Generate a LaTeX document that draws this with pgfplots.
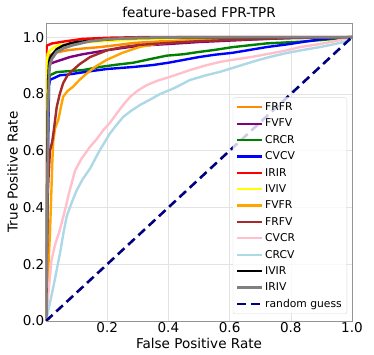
\documentclass[border=0pt]{standalone}
\usepackage{fontspec}
\setmainfont{DejaVu Sans}
\usepackage{pgfplots}
\pgfplotsset{compat=1.18}

\definecolor{cFRFR}{RGB}{255,140,0}
\definecolor{cFVFV}{RGB}{128,0,128}
\definecolor{cCRCR}{RGB}{0,128,0}
\definecolor{cCVCV}{RGB}{0,0,255}
\definecolor{cIRIR}{RGB}{255,0,0}
\definecolor{cIVIV}{RGB}{255,255,0}
\definecolor{cFVFR}{RGB}{255,165,0}
\definecolor{cFRFV}{RGB}{165,42,42}
\definecolor{cCVCR}{RGB}{255,192,203}
\definecolor{cCRCV}{RGB}{173,216,230}
\definecolor{cIVIR}{RGB}{0,0,0}
\definecolor{cIRIV}{RGB}{128,128,128}
\definecolor{cnavy}{RGB}{0,0,128}

\begin{document}
\begin{tikzpicture}
\begin{axis}[
  scale only axis,
  width=306bp, height=298bp,
  xmin=0, xmax=1, ymin=0, ymax=1.05,
  xtick={0.2,0.4,0.6,0.8,1.0},
  ytick={0,0.2,0.4,0.6,0.8,1.0},
  /pgf/number format/assume math mode=true,
  /pgf/number format/fixed, /pgf/number format/precision=1,
  /pgf/number format/fixed zerofill,
  ticklabel style={font=\fontsize{13.6}{15}\selectfont, inner sep=1.5bp},
  major tick length=0pt,
  grid=major,
  grid style={gray!22, line width=0.6pt},
  axis line style={gray!85, line width=0.8pt},
  title={feature-based FPR-TPR},
  title style={font=\fontsize{13.6}{15}\selectfont, yshift=-4bp},
  xlabel={False Positive Rate},
  ylabel={True Positive Rate},
  label style={font=\fontsize{13.6}{15}\selectfont},
  xlabel style={yshift=0bp},
  ylabel style={yshift=0bp},
  every axis plot/.append style={line width=2.4pt, line join=round},
  legend style={at={(1,0)}, anchor=south east, xshift=-5bp, yshift=7bp,
    font=\fontsize{10.8}{13}\selectfont, draw=gray!30, rounded corners=2bp,
    fill=white, fill opacity=0.8, text opacity=1, row sep=3bp,
    inner xsep=3bp, inner ysep=3bp},
  legend cell align=left,
  legend image code/.code={\draw[#1, line width=2.2pt] (0bp,0bp) -- (25bp,0bp);},
]
\addplot[cFRFR] coordinates {(0,0)(0.002,0.3)(0.004,0.6)(0.006,0.85)(0.008,0.92)(0.013,0.937)(0.03,0.945)(0.07,0.954)(0.12,0.96)(0.176,0.965)(0.23,0.972)(0.29,0.98)(0.37,0.985)(0.46,0.99)(0.6,0.995)(0.75,0.998)(1,1)};
\addlegendentry{FRFR}
\addplot[cFVFV] coordinates {(0,0)(0.003,0.5)(0.006,0.85)(0.01,0.905)(0.03,0.913)(0.05,0.92)(0.078,0.93)(0.12,0.94)(0.198,0.954)(0.25,0.962)(0.307,0.97)(0.4,0.976)(0.5,0.983)(0.6,0.988)(0.7,0.993)(0.8,0.997)(0.9,0.999)(1,1)};
\addlegendentry{FVFV}
\addplot[cCRCR] coordinates {(0,0)(0.004,0.5)(0.008,0.84)(0.013,0.866)(0.035,0.877)(0.07,0.88)(0.12,0.884)(0.176,0.895)(0.23,0.903)(0.285,0.91)(0.35,0.925)(0.395,0.935)(0.45,0.94)(0.5,0.948)(0.55,0.955)(0.61,0.965)(0.72,0.978)(0.83,0.984)(0.9,0.99)(0.95,0.995)(1,1)};
\addlegendentry{CRCR}
\addplot[cCVCV] coordinates {(0,0)(0.005,0.5)(0.01,0.83)(0.013,0.85)(0.024,0.855)(0.046,0.866)(0.07,0.868)(0.144,0.88)(0.2,0.888)(0.285,0.895)(0.35,0.902)(0.4,0.91)(0.5,0.93)(0.55,0.938)(0.61,0.945)(0.72,0.965)(0.79,0.975)(0.85,0.985)(0.9,0.993)(0.95,0.998)(1,1)};
\addlegendentry{CVCV}
\addplot[cIRIR] coordinates {(0,0)(0.001,0.9)(0.002,0.97)(0.02,0.978)(0.06,0.985)(0.12,0.994)(0.2,0.998)(0.3,1)(1,1)};
\addlegendentry{IRIR}
\addplot[cIVIV] coordinates {(0,0)(0.002,0.85)(0.005,0.94)(0.015,0.955)(0.035,0.97)(0.1,0.98)(0.176,0.985)(0.3,0.993)(0.5,0.998)(1,1)};
\addlegendentry{IVIV}
\addplot[cFVFR] coordinates {(0,0)(0.004,0.1)(0.008,0.2)(0.013,0.31)(0.018,0.47)(0.021,0.57)(0.024,0.637)(0.03,0.68)(0.04,0.708)(0.048,0.75)(0.056,0.79)(0.07,0.81)(0.088,0.825)(0.11,0.85)(0.133,0.872)(0.16,0.895)(0.198,0.92)(0.25,0.945)(0.307,0.966)(0.36,0.976)(0.416,0.983)(0.5,0.99)(0.6,0.995)(0.8,0.999)(1,1)};
\addlegendentry{FVFR}
\addplot[cFRFV] coordinates {(0,0)(0.003,0.2)(0.006,0.45)(0.008,0.5)(0.013,0.6)(0.02,0.63)(0.024,0.66)(0.03,0.71)(0.035,0.754)(0.045,0.8)(0.056,0.838)(0.07,0.865)(0.088,0.884)(0.11,0.905)(0.144,0.93)(0.2,0.954)(0.25,0.965)(0.307,0.973)(0.4,0.98)(0.5,0.986)(0.6,0.99)(0.8,0.997)(1,1)};
\addlegendentry{FRFV}
\addplot[cCVCR] coordinates {(0,0)(0.008,0.10)(0.018,0.215)(0.03,0.27)(0.045,0.32)(0.062,0.39)(0.075,0.45)(0.095,0.53)(0.115,0.57)(0.144,0.614)(0.165,0.64)(0.187,0.672)(0.21,0.70)(0.231,0.731)(0.255,0.765)(0.275,0.79)(0.3,0.812)(0.329,0.831)(0.365,0.847)(0.405,0.86)(0.44,0.873)(0.47,0.884)(0.52,0.9)(0.569,0.913)(0.62,0.922)(0.67,0.93)(0.72,0.94)(0.78,0.952)(0.83,0.965)(0.89,0.975)(0.94,0.985)(1,1)};
\addlegendentry{CVCR}
\addplot[cCRCV] coordinates {(0,0)(0.012,0.06)(0.024,0.12)(0.035,0.18)(0.046,0.24)(0.057,0.31)(0.068,0.37)(0.085,0.42)(0.1,0.46)(0.12,0.50)(0.144,0.537)(0.16,0.57)(0.176,0.602)(0.209,0.661)(0.23,0.69)(0.253,0.72)(0.28,0.742)(0.307,0.761)(0.34,0.78)(0.373,0.80)(0.416,0.819)(0.44,0.832)(0.47,0.849)(0.52,0.865)(0.569,0.878)(0.62,0.895)(0.68,0.915)(0.73,0.93)(0.79,0.945)(0.84,0.955)(0.895,0.965)(0.94,0.975)(0.98,0.985)(1,1)};
\addlegendentry{CRCV}
\addplot[cIVIR] coordinates {(0,0)(0.003,0.3)(0.005,0.7)(0.007,0.85)(0.01,0.91)(0.013,0.926)(0.018,0.935)(0.035,0.958)(0.055,0.97)(0.078,0.978)(0.1,0.983)(0.176,0.99)(0.25,0.996)(0.4,0.999)(1,1)};
\addlegendentry{IVIR}
\addplot[cIRIV, line width=2.8pt] coordinates {(0,0)(0.004,0.4)(0.007,0.75)(0.01,0.87)(0.013,0.905)(0.02,0.925)(0.035,0.948)(0.06,0.962)(0.088,0.972)(0.14,0.985)(0.2,0.993)(0.3,0.998)(0.5,1)(1,1)};
\addlegendentry{IRIV}
\addplot[cnavy, line width=2.6pt, dash pattern=on 9bp off 5bp] coordinates {(0,0)(1,1)};
\addlegendentry{random guess}
\path (rel axis cs:0,0) ++(-46bp,-34bp) coordinate (bl);
\path (rel axis cs:1,1) ++(22bp,23bp) coordinate (tr);
\end{axis}
\path (bl) rectangle (tr);
\end{tikzpicture}
\end{document}
